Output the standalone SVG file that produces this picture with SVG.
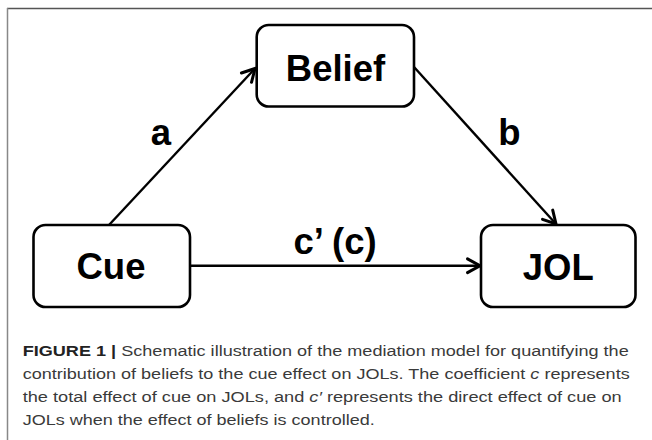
<svg xmlns="http://www.w3.org/2000/svg" width="652" height="440" viewBox="0 0 652 440">
<style>
.box{fill:#fff;stroke:#000;stroke-width:2.6}
.lbl{font-family:"Liberation Sans",Arial,sans-serif;font-weight:bold;font-size:36.5px;fill:#000;text-anchor:middle}
.edge{stroke:#000;stroke-width:2.4;fill:none}
.cap{font-family:"Liberation Sans",Arial,sans-serif;font-size:15.5px;fill:#3a3a3a}
</style>
<defs>
<marker id="ah" markerUnits="userSpaceOnUse" markerWidth="20" markerHeight="20" viewBox="-12 -8 14 16" refX="0" refY="0" orient="auto">
<path d="M-10,-5.5 L0,0 L-10,5.5" fill="none" stroke="#000" stroke-width="2.4" stroke-linecap="round" stroke-linejoin="miter"/>
</marker>
</defs>
<rect width="652" height="440" fill="#fff"/>
<g id="frame">
<line x1="7" y1="8.5" x2="652" y2="8.5" stroke="#555" stroke-width="1.3"/>
<line x1="7.5" y1="8" x2="7.5" y2="440" stroke="#888" stroke-width="1.5"/>
</g>
<g id="connectors">
<line class="edge" x1="109" y1="225" x2="255" y2="68.5" marker-end="url(#ah)"/>
<line class="edge" x1="414" y1="67" x2="556" y2="224" marker-end="url(#ah)"/>
<line class="edge" x1="190" y1="265.7" x2="480" y2="265.7" marker-end="url(#ah)"/>
<text class="lbl" x="161" y="145">a</text>
<text class="lbl" x="509.5" y="145">b</text>
<text class="lbl" x="335" y="254">c’ (c)</text>
</g>
<g id="belief">
<rect class="box" x="256.7" y="25" width="157.3" height="81.5" rx="12"/>
<text class="lbl" x="335.5" y="81">Belief</text>
</g>
<g id="cue">
<rect class="box" x="33.5" y="225" width="156.5" height="82" rx="12"/>
<text class="lbl" x="111" y="278.5">Cue</text>
</g>
<g id="jol">
<rect class="box" x="481" y="225" width="154.5" height="82" rx="12"/>
<text class="lbl" x="558.3" y="279.5">JOL</text>
</g>
<g id="caption">
<text class="cap" x="22.7" y="356" textLength="606" lengthAdjust="spacingAndGlyphs"><tspan font-weight="bold" fill="#222">FIGURE 1 |</tspan> Schematic illustration of the mediation model for quantifying the</text>
<text class="cap" x="22.7" y="379" textLength="607" lengthAdjust="spacingAndGlyphs">contribution of beliefs to the cue effect on JOLs. The coefficient <tspan font-style="italic">c</tspan> represents</text>
<text class="cap" x="22.7" y="402" textLength="599" lengthAdjust="spacingAndGlyphs">the total effect of cue on JOLs, and <tspan font-style="italic">c′</tspan> represents the direct effect of cue on</text>
<text class="cap" x="22.7" y="425" textLength="352" lengthAdjust="spacingAndGlyphs">JOLs when the effect of beliefs is controlled.</text>
</g>
</svg>
